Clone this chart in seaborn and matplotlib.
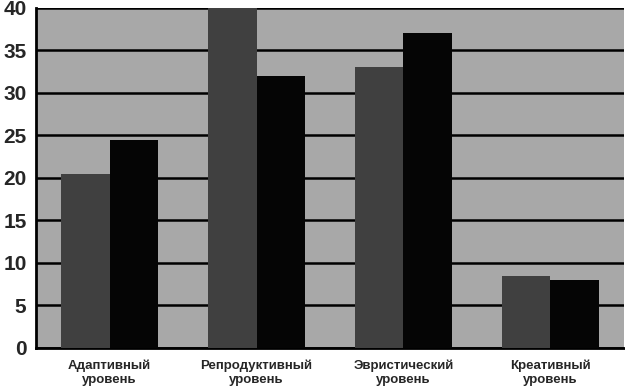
import matplotlib
matplotlib.use("Agg")
import matplotlib.pyplot as plt
import pandas as pd
import seaborn as sns
from matplotlib.ticker import FixedLocator

# ==============================================================================
# DATOS
# ==============================================================================
categories = ["Адаптивный\nуровень", "Репродуктивный\nуровень",
              "Эвристический\nуровень", "Креативный\nуровень"]
series_names = ["Серия 1", "Серия 2"]
series_1 = [20.5, 40, 33, 8.5]
series_2 = [24.5, 32, 37, 8]
y_ticks = [0, 5, 10, 15, 20, 25, 30, 35, 40]

df = pd.DataFrame({
    "category": categories * 2,
    "series": [series_names[0]] * 4 + [series_names[1]] * 4,
    "value": series_1 + series_2,
})

sns.set_style("white")
plt.rcParams["font.family"] = ["Liberation Sans", "DejaVu Sans"]

fig = plt.figure(figsize=(6.25, 3.91), dpi=100)
ax = fig.add_axes([0.058, 0.11, 0.94, 0.87])
ax.set_facecolor("#a8a8a8")

sns.barplot(data=df, x="category", y="value", hue="series",
            palette=["#404040", "#050505"], width=0.66, saturation=1,
            edgecolor="none", linewidth=0,
            legend=False, ax=ax, zorder=3)

# rejilla horizontal
ax.set_ylim(0, 40)
ax.set_yticks(y_ticks)
ax.yaxis.grid(True, color="black", linewidth=1.8, zorder=1)
ax.set_axisbelow(True)
ax.set_xlim(-0.5, 3.5)

ax.set_xlabel("")
ax.set_ylabel("")
for lbl in ax.get_yticklabels():
    lbl.set_fontweight("bold")
    lbl.set_fontsize(15)
for lbl in ax.get_xticklabels():
    lbl.set_fontweight("bold")
    lbl.set_fontsize(9.5)
    lbl.set_linespacing(1.3)

ax.tick_params(axis="x", which="major", length=0, pad=8)
ax.xaxis.set_minor_locator(FixedLocator([0.5, 1.5, 2.5, 3.5]))
ax.tick_params(axis="x", which="minor", length=4, width=1.2, color="black")
ax.tick_params(axis="y", length=5, width=1.5, color="black", pad=2)

for side in ["top", "right"]:
    ax.spines[side].set_visible(False)
ax.spines["left"].set_linewidth(2)
ax.spines["bottom"].set_linewidth(2)
ax.spines["left"].set_color("black")
ax.spines["bottom"].set_color("black")

fig.savefig("out.png", dpi=100)
